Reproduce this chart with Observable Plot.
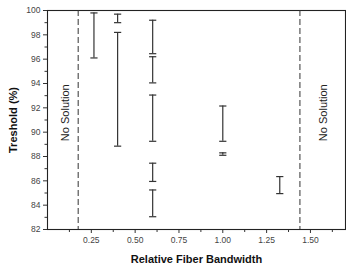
<!DOCTYPE html>
<html><head><meta charset="utf-8">
<script src="https://cdn.jsdelivr.net/npm/d3@7"></script>
<script src="https://cdn.jsdelivr.net/npm/@observablehq/plot@0.6"></script>
<style>
body{margin:0;background:#fff}
g[aria-label$="axis label"]{font-weight:bold;font-size:11px;fill:#111}
</style>
</head><body>
<div id="chart"></div>
<script>
const barX    = [0.265, 0.40, 0.40, 0.60, 0.60, 0.60, 0.60, 0.60, 1.00, 1.00, 1.325];
const barLow  = [96.1, 99.0, 88.85, 96.45, 94.05, 89.25, 85.95, 83.05, 89.25, 88.1, 84.95];
const barHigh = [99.8, 99.7, 98.2, 99.2, 96.2, 93.05, 87.45, 85.25, 92.15, 88.3, 86.35];
const boundaryX = [0.175, 1.44];
const noteX = [0.10, 1.575];
const noteY = [91.6, 91.6];
const noteText = ["No Solution", "No Solution"];
const xTicks = [0.25, 0.50, 0.75, 1.00, 1.25, 1.50];
const xMinor = [0.125, 0.375, 0.625, 0.875, 1.125, 1.375, 1.625];
const yTicks = [82, 84, 86, 88, 90, 92, 94, 96, 98, 100];
const yMinor = [83, 85, 87, 89, 91, 93, 95, 97, 99];

const bars = barX.map((x, i) => ({x, lo: barLow[i], hi: barHigh[i]}));
const notes = noteX.map((x, i) => ({x, y: noteY[i], t: noteText[i]}));
const ends = bars.flatMap(d => [{x: d.x, y: d.lo}, {x: d.x, y: d.hi}]);
const hline = {draw(ctx, size) { const r = Math.sqrt(size / Math.PI); ctx.moveTo(-r, 0); ctx.lineTo(r, 0); }};
const ink = "#333";

const chart = Plot.plot({
  width: 346, height: 265,
  marginLeft: 47, marginRight: 1, marginTop: 10, marginBottom: 36,
  style: {fontFamily: "Liberation Sans, Arial, sans-serif", fontSize: "8.5px", color: "#444", background: "#fff"},
  x: {domain: [0, 1.7]},
  y: {domain: [82, 100]},
  marks: [
    Plot.axisX(xTicks, {tickSize: 4, tickPadding: 3, tickFormat: d3.format(".2f"), stroke: ink,
      label: "Relative Fiber Bandwidth", labelAnchor: "center", labelOffset: 33, labelArrow: "none"}),
    Plot.axisX(xMinor, {tickSize: 3, tickFormat: () => "", stroke: ink, label: null}),
    Plot.axisY(yTicks, {tickSize: 4, tickPadding: 3, stroke: ink,
      label: "Treshold (%)", labelAnchor: "center", labelOffset: 38, labelArrow: "none"}),
    Plot.axisY(yMinor, {tickSize: 2.5, tickFormat: () => "", stroke: ink, label: null}),
    Plot.frame({stroke: "#222", strokeWidth: 1.1}),
    Plot.ruleX(boundaryX, {stroke: "#333", strokeWidth: 1, strokeDasharray: "6,3"}),
    Plot.ruleX(bars, {x: "x", y1: "lo", y2: "hi", stroke: ink, strokeWidth: 1.2}),
    Plot.dot(ends, {x: "x", y: "y", r: 3.6, symbol: hline, stroke: ink, strokeWidth: 1.2, fill: "none"}),
    Plot.text(notes, {x: "x", y: "y", text: "t", rotate: -90, fontSize: 11, fill: "#222"})
  ]
});
document.getElementById("chart").appendChild(chart);
</script>
</body></html>
